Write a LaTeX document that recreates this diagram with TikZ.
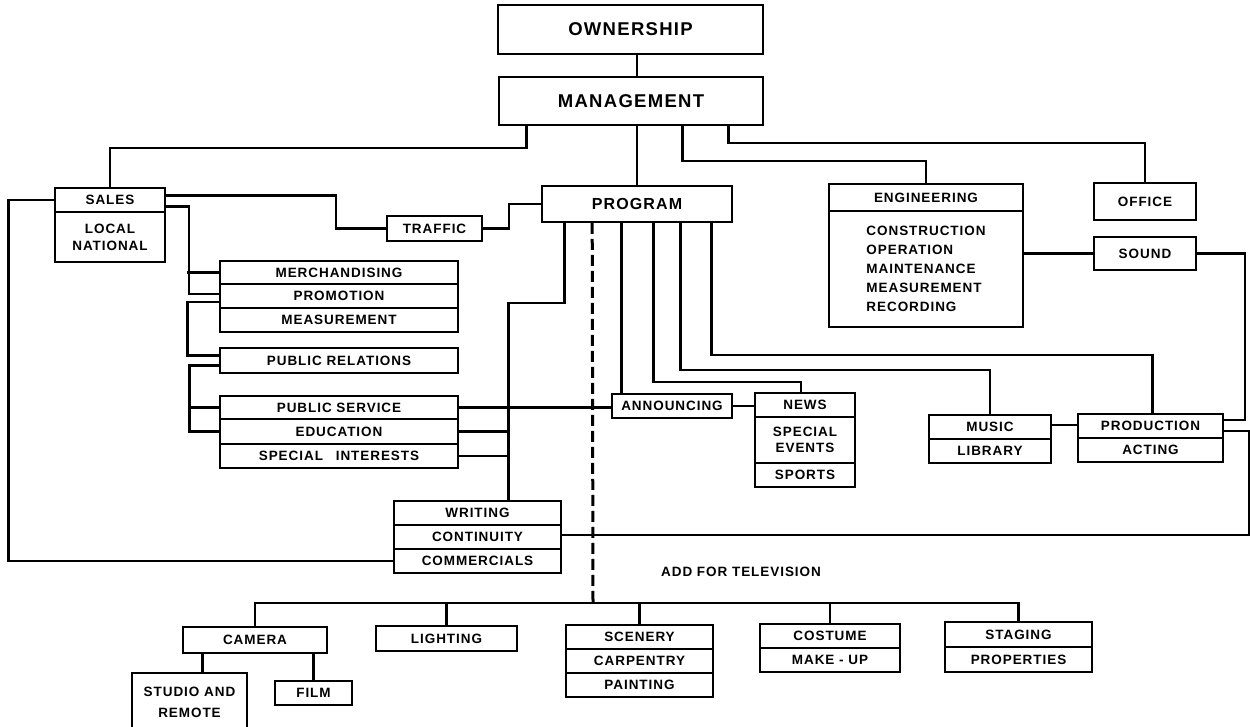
\documentclass[tikz,border=0pt]{standalone}
\usepackage{fontspec}
\newfontfamily\lbl{Liberation Sans}[LetterSpace=7]
\usetikzlibrary{calc}
\begin{document}
\begin{tikzpicture}[x=1pt,y=-1pt,
  box/.style={draw, line width=1.6pt, inner sep=0pt, align=center,
    font=\lbl\bfseries\fontsize{13.5}{17}\selectfont},
  bigbox/.style={box, font=\lbl\bfseries\fontsize{18.5}{22}\selectfont},
  conn/.style={line width=2.6pt},
  dashline/.style={line width=3pt, dash pattern=on 11pt off 5pt}]
\useasboundingbox (0,0) rectangle (1250,726);
\clip (0,0) rectangle (1250,726);

% top
\node[bigbox, minimum width=265, minimum height=49] (own) at (630.5,29.5) {OWNERSHIP};
\node[bigbox, minimum width=264, minimum height=48] (mgmt) at (631,101) {MANAGEMENT};
\node[box, minimum width=190, minimum height=36, font=\lbl\bfseries\fontsize{16}{19}\selectfont] (prog) at (637,204) {PROGRAM};

% sales
\node[box, minimum width=110, minimum height=24] (sales) at (110,200) {SALES};
\node[box, minimum width=110, minimum height=50] (salesb) at (110,237) {LOCAL\\NATIONAL};
\node[box, minimum width=95, minimum height=25] (traffic) at (434.5,228.5) {TRAFFIC};

% engineering
\node[box, minimum width=194, minimum height=27] (eng) at (926,197.5) {ENGINEERING};
\node[box, minimum width=194, minimum height=116, align=left,
  font=\lbl\bfseries\fontsize{13.5}{19}\selectfont] (engb) at (926,269)
  {CONSTRUCTION\\OPERATION\\MAINTENANCE\\MEASUREMENT\\RECORDING};
\node[box, minimum width=102, minimum height=37] (office) at (1145,201.5) {OFFICE};
\node[box, minimum width=102, minimum height=33] (sound) at (1145,253.5) {SOUND};

% left column
\node[box, minimum width=238, minimum height=23] (merch) at (339,272.5) {MERCHANDISING};
\node[box, minimum width=238, minimum height=24] (promo) at (339,296) {PROMOTION};
\node[box, minimum width=238, minimum height=24] (meas) at (339,320) {MEASUREMENT};
\node[box, minimum width=238, minimum height=25] (pr) at (339,360.5) {PUBLIC RELATIONS};
\node[box, minimum width=238, minimum height=23] (ps) at (339,407.5) {PUBLIC SERVICE};
\node[box, minimum width=238, minimum height=25] (edu) at (339,431.5) {EDUCATION};
\node[box, minimum width=238, minimum height=24] (si) at (339,456) {SPECIAL\hspace{0.6em} INTERESTS};

% writing
\node[box, minimum width=167, minimum height=24] (writ) at (477.5,513) {WRITING};
\node[box, minimum width=167, minimum height=24] (cont) at (477.5,537) {CONTINUITY};
\node[box, minimum width=167, minimum height=24] (comm) at (477.5,561) {COMMERCIALS};

% middle
\node[box, minimum width=120, minimum height=24] (ann) at (672,406) {ANNOUNCING};
\node[box, minimum width=100, minimum height=24] (news) at (805,405) {NEWS};
\node[box, minimum width=100, minimum height=46, font=\lbl\bfseries\fontsize{13.5}{16}\selectfont] (spev) at (805,440) {SPECIAL\\EVENTS};
\node[box, minimum width=100, minimum height=24] (sports) at (805,475) {SPORTS};
\node[box, minimum width=122, minimum height=24] (music) at (990,427) {MUSIC};
\node[box, minimum width=122, minimum height=24] (lib) at (990,451) {LIBRARY};
\node[box, minimum width=145, minimum height=24] (prod) at (1150.5,426) {PRODUCTION};
\node[box, minimum width=145, minimum height=24] (act) at (1150.5,450) {ACTING};

% television
\node[font=\lbl\bfseries\fontsize{13.5}{17}\selectfont] (tv) at (741,572) {ADD FOR TELEVISION};
\node[box, minimum width=144, minimum height=26] (cam) at (255,640) {CAMERA};
\node[box, minimum width=115, minimum height=58, font=\lbl\bfseries\fontsize{13.5}{21}\selectfont] (stud) at (189.5,702) {STUDIO AND\\REMOTE};
\node[box, minimum width=77, minimum height=24] (film) at (313.5,693) {FILM};
\node[box, minimum width=141, minimum height=25] (light) at (446.5,638.5) {LIGHTING};
\node[box, minimum width=147, minimum height=24] (scen) at (639.5,637) {SCENERY};
\node[box, minimum width=147, minimum height=24] (carp) at (639.5,661) {CARPENTRY};
\node[box, minimum width=147, minimum height=24] (paint) at (639.5,685) {PAINTING};
\node[box, minimum width=140, minimum height=24] (cost) at (830,636) {COSTUME};
\node[box, minimum width=140, minimum height=24] (make) at (830,660) {MAKE - UP};
\node[box, minimum width=147, minimum height=25] (stag) at (1018.5,634.5) {STAGING};
\node[box, minimum width=147, minimum height=25] (prop) at (1018.5,659.5) {PROPERTIES};

% coordinates
\coordinate (wx) at ($(writ.north west)+(115,0)$);
\coordinate (bus) at (593,603);

% connectors: top
\draw[conn] (own.south -| prog.north) -- (mgmt.north -| prog.north);
\draw[conn] (mgmt.south -| prog.north) -- (prog.north);
\draw[conn] ($(mgmt.south west)+(28,0)$) -- ++(0,22) -| (sales.north);
\draw[conn] ($(mgmt.south west)+(184,0)$) -- ++(0,35) -| (eng.north);
\draw[conn] ($(mgmt.south west)+(230,0)$) -- ++(0,17) -| (office.north);

% sales
\draw[conn] ($(sales.north east)+(0,8)$) -- ++(170,0) |- (traffic.west);
\draw[conn] (traffic.east) -- ++(26,0) |- (prog.west);
\draw[conn] (sales.west) -- ++(-46,0) |- (comm.west);
\draw[conn] ($(sales.north east)+(0,19)$) -- ++(23,0) |- ($(promo.west)+(0,-2)$);
\draw[conn] (merch.west) -- ++(-32,0);
\draw[conn] ($(promo.west)+(0,6)$) -- ++(-32,0) |- ($(pr.west)+(0,-5)$);
\draw[conn] ($(pr.west)+(0,5)$) -- ++(-30,0) |- (edu.west);
\draw[conn] (ps.west) -- ++(-30,0);

% program
\draw[conn] ($(prog.south west)+(23,0)$) -- ++(0,80) -| (wx);
\draw[dashline] ($(prog.south west)+(51,0)$) -- (bus);
\draw[conn] ($(prog.south west)+(80,0)$) -- ($(ann.north west)+(10,0)$);
\draw[conn] ($(prog.south west)+(112,0)$) -- ++(0,159) -| ($(news.north)+(-4,0)$);
\draw[conn] ($(prog.south west)+(139,0)$) -- ++(0,147) -| (music.north);
\draw[conn] ($(prog.south west)+(170,0)$) -- ++(0,132) -| ($(prod.north)+(2,0)$);
\draw[conn] (ps.east) -- (ps.east -| ann.west);
\draw[conn] (edu.east) -- (edu.east -| wx);
\draw[conn] (si.east) -- (si.east -| wx);
\draw[conn] (ann.east) -- (ann.east -| news.west);
\draw[conn] ($(music.east)+(0,-2)$) -- ($(prod.west)+(0,-1)$);

% engineering side
\draw[conn] (sound.west -| engb.east) -- (sound.west);
\draw[conn] (sound.east) -- ++(48,0) |- ($(prod.east)+(0,-6)$);
\draw[conn] ($(prod.east)+(0,5)$) -- ++(25,0) |- ($(cont.east)+(0,-2)$);

% television
\draw[conn] (cam.north) |- (bus) -| (stag.north);
\draw[conn] (light.north) -- (light.north |- bus);
\draw[conn] (scen.north) -- (scen.north |- bus);
\draw[conn] (cost.north) -- (cost.north |- bus);
\draw[conn] ($(cam.south west)+(20,0)$) -- ($(stud.north west)+(71,0)$);
\draw[conn] (film.north |- cam.south) -- (film.north);
\end{tikzpicture}
\end{document}
